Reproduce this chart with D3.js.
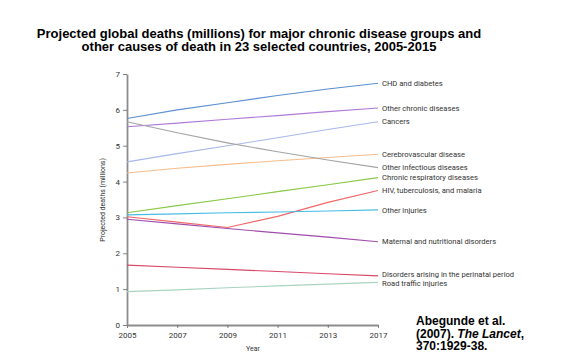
<!DOCTYPE html>
<html>
<head>
<meta charset="utf-8">
<script src="https://cdn.jsdelivr.net/npm/d3@7"></script>
<style>
  html, body { margin: 0; padding: 0; background: #fff; }
  svg { display: block; }
</style>
</head>
<body>
<svg id="chart" width="567" height="360"></svg>
<script>
// ---- data ----
const years = [2005, 2007, 2009, 2011, 2013, 2015];
const tickLabels = ["2005", "2007", "2009", "2011", "2013", "2017"];
const yTicks = [0, 1, 2, 3, 4, 5, 6, 7];

const seriesNames = [
  "CHD and diabetes",
  "Other chronic diseases",
  "Cancers",
  "Cerebrovascular disease",
  "Other infectious diseases",
  "Chronic respiratory diseases",
  "HIV, tuberculosis, and malaria",
  "Other injuries",
  "Maternal and nutritional disorders",
  "Disorders arising in the perinatal period",
  "Road traffic injuries"
];
const chdDiabetes      = [5.76, 6.00, 6.20, 6.40, 6.58, 6.74];
const otherChronic     = [5.53, 5.63, 5.74, 5.84, 5.95, 6.05];
const cancers          = [4.55, 4.78, 5.00, 5.22, 5.45, 5.67];
const cerebrovascular  = [4.24, 4.37, 4.48, 4.58, 4.67, 4.76];
const otherInfectious  = [5.67, 5.36, 5.08, 4.83, 4.60, 4.39];
const chronicResp      = [3.13, 3.33, 3.52, 3.72, 3.91, 4.11];
const hivTbMalaria     = [3.02, 2.87, 2.72, 3.03, 3.42, 3.75];
const otherInjuries    = [3.07, 3.10, 3.13, 3.15, 3.18, 3.21];
const maternal         = [2.95, 2.82, 2.69, 2.57, 2.45, 2.32];
const perinatal        = [1.67, 1.61, 1.55, 1.49, 1.43, 1.37];
const roadTraffic      = [0.93, 0.98, 1.04, 1.09, 1.14, 1.19];

const seriesValues = [chdDiabetes, otherChronic, cancers, cerebrovascular, otherInfectious,
  chronicResp, hivTbMalaria, otherInjuries, maternal, perinatal, roadTraffic];
const seriesColors = ["#5b8fd0", "#b07ad8", "#a8b8e8", "#f8bc8c", "#a4a4a4",
  "#88c848", "#f06868", "#48bce4", "#a04cac", "#d84868", "#a8d4c0"];

// ---- layout ----
const svg = d3.select("#chart");
const mLeft = 127, mRight = 378, mTop = 74, mBottom = 325;

const x = d3.scaleLinear().domain([2005, 2015]).range([mLeft, mRight]);
const y = d3.scaleLinear().domain([0, 7]).range([mBottom, mTop]);

// title
const titleFont = "'Liberation Sans', Arial, sans-serif";
svg.append("text")
  .attr("x", 259).attr("y", 37.5)
  .attr("text-anchor", "middle")
  .style("font-family", titleFont)
  .style("font-weight", "bold").style("font-size", "13px").style("fill", "#000")
  .text("Projected global deaths (millions) for major chronic disease groups and");
svg.append("text")
  .attr("x", 259).attr("y", 51)
  .attr("text-anchor", "middle")
  .style("font-family", titleFont)
  .style("font-weight", "bold").style("font-size", "13px").style("fill", "#000")
  .text("other causes of death in 23 selected countries, 2005-2015");

// axes
const axisFont = "Roboto, 'Noto Sans', sans-serif";
const xAxis = d3.axisBottom(x).tickValues(years)
  .tickFormat((d, i) => tickLabels[i]).tickSize(3).tickSizeOuter(0).tickPadding(4);
const gx = svg.append("g").attr("transform", `translate(0,${mBottom})`).call(xAxis);
const yAxis = d3.axisLeft(y).tickValues(yTicks).tickFormat(d3.format("d"))
  .tickSize(4).tickSizeOuter(0).tickPadding(3);
const gy = svg.append("g").attr("transform", `translate(${mLeft},0)`).call(yAxis);

[gx, gy].forEach(g => {
  g.select(".domain").attr("stroke", "#8c8c8c").attr("stroke-width", 1.8);
  g.selectAll(".tick line").attr("stroke", "#666").attr("stroke-width", 0.8);
  g.selectAll(".tick text").style("font-family", axisFont).style("font-size", "8px").style("fill", "#333");
});

svg.append("text")
  .attr("x", 253).attr("y", 351).attr("text-anchor", "middle")
  .style("font-family", axisFont).style("font-size", "7px").style("fill", "#333")
  .text("Year");
svg.append("text")
  .attr("transform", "translate(105,200) rotate(-90)")
  .attr("text-anchor", "middle")
  .style("font-family", axisFont).style("font-size", "7px").style("fill", "#333")
  .text("Projected deaths (millions)");

// lines
const line = d3.line().x((d, i) => x(years[i])).y(d => y(d));
const plot = svg.append("g");
seriesValues.forEach((vals, k) => {
  plot.append("path")
    .datum(vals)
    .attr("fill", "none")
    .attr("stroke", seriesColors[k])
    .attr("stroke-width", 1.1)
    .attr("d", line);
});

// end labels with simple collision avoidance
const labels = seriesValues.map((vals, k) => ({ name: seriesNames[k], y: y(vals[vals.length - 1]) }))
  .sort((a, b) => a.y - b.y);
const minGap = 9;
for (let iter = 0; iter < 10; iter++) {
  for (let i = 1; i < labels.length; i++) {
    const gap = labels[i].y - labels[i - 1].y;
    if (gap < minGap) {
      const d = (minGap - gap) / 2;
      labels[i - 1].y -= d;
      labels[i].y += d;
    }
  }
}
plot.selectAll("text.lbl").data(labels).join("text")
  .attr("class", "lbl")
  .attr("x", mRight + 4)
  .attr("y", d => d.y)
  .attr("dy", "0.35em")
  .style("font-family", axisFont).style("font-size", "7.6px").style("fill", "#333")
  .text(d => d.name);

// citation
const cit = svg.append("text")
  .style("font-family", titleFont)
  .style("font-weight", "bold").style("font-size", "12px").style("fill", "#000");
cit.append("tspan").attr("x", 416).attr("y", 325).text("Abegunde et al.");
cit.append("tspan").attr("x", 416).attr("y", 337.5).text("(2007). ");
cit.append("tspan").style("font-style", "italic").text("The Lancet");
cit.append("tspan").text(",");
cit.append("tspan").attr("x", 416).attr("y", 350).text("370:1929-38.");
</script>
</body>
</html>
